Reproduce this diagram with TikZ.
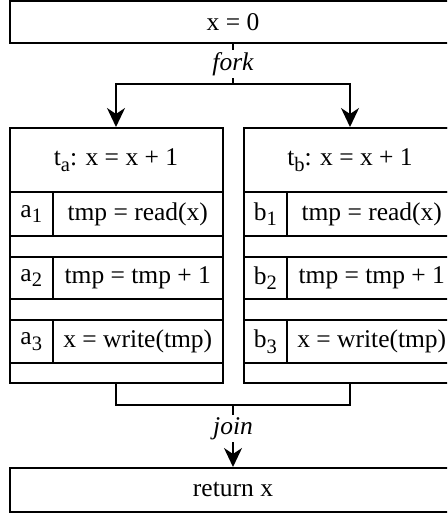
\documentclass[tikz,border=0pt]{standalone}
\usepackage{fontspec}
\setmainfont{Liberation Serif}
\usetikzlibrary{arrows.meta}
\newcommand{\sbx}[1]{\raisebox{-5.5pt}{\fontsize{20.5}{24}\selectfont #1}}
\begin{document}
\begin{tikzpicture}[x=1pt,y=-1pt, line width=2pt,
  txt/.style={font=\fontsize{25.5}{30}\selectfont},
  box/.style={draw, rectangle, inner sep=0pt, txt},
  arr/.style={-{Stealth[length=19pt,width=18pt,inset=6pt]}},
  lbl/.style={fill=white, inner sep=2pt, font=\fontsize{25.5}{30}\selectfont\itshape}]
\useasboundingbox (0,0) rectangle (447,513);
\begin{scope}
\clip (0,0) rectangle (447,513);
% start and end
\node[box, minimum width=447pt, minimum height=41.5pt] (init) at (233,22.25) {x = 0};
\node[box, minimum width=447pt, minimum height=43.5pt] (ret) at (233,489.75) {return x};
% thread boxes
\node[box, minimum width=213pt, minimum height=255pt] (tA) at (116,255.5) {};
\node[box, minimum width=213pt, minimum height=255pt] (tB) at (350,255.5) {};
% headers
\node[box, minimum width=213pt, minimum height=64pt] (ta) at (116,160) {t\sbx{a}: x = x + 1};
\node[box, minimum width=213pt, minimum height=64pt] (tb) at (350,160) {t\sbx{b}: x = x + 1};
% thread a rows
\node[box, minimum width=43.5pt, minimum height=44pt] (a1) at (31.25,214) {a\sbx{1}};
\node[box, minimum width=169.5pt, minimum height=44pt] (a1c) at (137.75,214) {tmp = read(x)};
\node[box, minimum width=43.5pt, minimum height=42pt] (a2) at (31.25,278) {a\sbx{2}};
\node[box, minimum width=169.5pt, minimum height=42pt] (a2c) at (137.75,278) {tmp = tmp + 1};
\node[box, minimum width=43.5pt, minimum height=43pt] (a3) at (31.25,341.5) {a\sbx{3}};
\node[box, minimum width=169.5pt, minimum height=43pt] (a3c) at (137.75,341.5) {x = write(tmp)};
% thread b rows
\node[box, minimum width=43.5pt, minimum height=44pt] (b1) at (265.25,214) {b\sbx{1}};
\node[box, minimum width=169.5pt, minimum height=44pt] (b1c) at (371.75,214) {tmp = read(x)};
\node[box, minimum width=43.5pt, minimum height=42pt] (b2) at (265.25,278) {b\sbx{2}};
\node[box, minimum width=169.5pt, minimum height=42pt] (b2c) at (371.75,278) {tmp = tmp + 1};
\node[box, minimum width=43.5pt, minimum height=43pt] (b3) at (265.25,341.5) {b\sbx{3}};
\node[box, minimum width=169.5pt, minimum height=43pt] (b3c) at (371.75,341.5) {x = write(tmp)};
% fork
\coordinate (fk) at (233,84);
\draw (init.south) -- node[lbl] {fork} (fk);
\draw[arr] (fk) -| (tA.north);
\draw[arr] (fk) -| (tB.north);
% join
\coordinate (jn) at (233,405);
\draw (tA.south) |- (jn) -| (tB.south);
\draw[arr] (jn) -- node[lbl, pos=0.38] {join} (ret.north);
\end{scope}
\end{tikzpicture}
\end{document}
